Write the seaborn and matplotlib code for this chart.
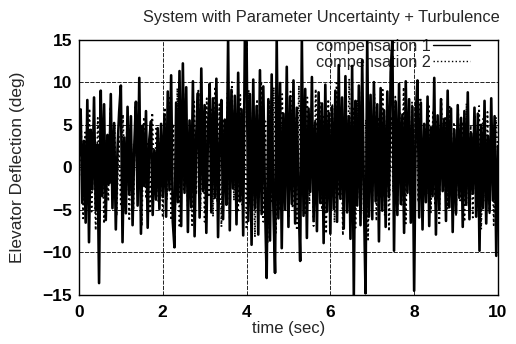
import numpy as np
import pandas as pd
import matplotlib
matplotlib.use('Agg')
import matplotlib.pyplot as plt
import seaborn as sns

comp1 = [
    1.5, 6.8, -4.2, 3.1, -6.5, 7.9, -8.8, 4.4, -2.6, 8.2, -5.1, 2.7, -13.6, 9.0, -3.4, 7.4, -6.2, 3.8, -1.9, 8.6, -4.8, 5.2, -7.3, 2.1, 6.5,
    9.6, -8.8, 3.5, -5.4, 7.1, -3.2, 6.0, -6.8, 2.4, 7.7, -4.5, 10.5, -7.8, 4.9, -2.2, 6.6, -7.1, 3.3, 5.4, -5.6, 2.0, -3.8, 4.6, -4.9, 5.1,
    -3.5, 6.2, -5.8, 8.9, -2.7, 10.8, -6.4, -9.4, 7.6, -4.1, 11.3, -6.9, 12.2, -3.0, 9.4, -7.6, 5.5, -4.7, 10.1, -8.1, 3.9, 8.7, -5.9, 11.6, -2.8,
    7.3, -7.7, 4.2, 9.8, -5.3, 8.1, -3.6, 10.4, -8.2, 2.9, 7.9, -6.1, 5.6, -4.4, 15.0, -7.4, 9.1, -2.5, 8.4, -6.7, 11.1, -4.0, 6.8, -8.0, 15.0,
    14.8, -6.3, 8.6, -9.1, 10.3, -4.8, 7.2, -7.9, 11.4, -5.5, 9.5, -3.9, -13.0, 8.0, -8.6, 10.9, -4.6, -12.4, 15.0, -6.0, 9.9, -9.5, 6.3, -5.0, 11.8,
    -7.0, 8.3, -4.3, 10.2, -6.6, 7.0, -3.1, -11.0, 15.0, -5.7, 9.2, -8.3, 6.9, -2.9, 10.6, -6.2, 5.3, -7.5, 8.8, -4.2, 7.5, -8.9, 9.7, -5.2, 6.4,
    -7.8, 7.1, -4.9, 9.0, -6.4, 12.0, -3.7, 8.2, -7.2, 10.7, -5.3, 6.0, -8.4, 11.9, -15.0, 7.8, -4.5, 9.6, -6.8, 12.6, -3.3, -14.8, 15.0, -5.8, 8.5,
    -6.1, 10.0, -4.0, 7.4, -8.7, 9.3, -5.1, 6.7, -7.0, 8.9, -3.5, 11.2, 15.0, -9.8, 7.7, -5.6, 9.8, -4.3, 6.2, -7.7, 10.1, -3.0, 8.0, -6.5, 7.1,
    -14.5, 6.4, 10.2, -5.9, 7.6, -7.3, 5.1, -4.1, 8.3, -6.9, 4.7, -3.4, 10.5, -7.9, 6.1, -5.0, 8.0, -2.8, 5.7, -6.3, 9.0, -4.7, 6.9, -7.6, 4.4,
    -5.4, 7.3, -3.6, 5.8, -7.0, 6.6, -4.4, 8.8, -6.1, 4.0, -3.1, 7.0, -5.8, 6.3, -9.8, 5.0, -4.8, 7.8, -6.6, 3.7, -5.2, 8.1, -3.9, 6.0, -10.4, 2.5,
]

# compensation 2, sampled every 0.05 s
comp2 = [
    -2.1, 5.3, -6.0, 4.1, -3.3, 6.9, -5.2, 2.6, -7.4, 5.8, -1.8, 4.7, -6.6, 3.2, -4.0, 7.1, -2.9, 5.0, -5.7, 3.6,
    -4.6, 6.2, -3.1, 5.5, -6.3, 2.8, -5.0, 7.3, -2.4, 4.3, -6.9, 5.9, -3.7, 3.0, -5.4, 6.4, -2.0, 4.8, -4.2, 3.4,
    -5.9, 7.0, -3.8, 8.4, -6.2, 5.1, -4.5, 9.3, -7.1, 6.0, -2.6, 8.8, -5.5, 4.6, -6.8, 7.7, -3.2, 9.0, -4.9, 6.5,
    -6.4, 8.1, -3.5, 6.8, -5.8, 9.5, -4.1, 7.4, -7.0, 5.7, -2.8, 8.7, -6.1, 10.0, -3.9, 6.3, -5.3, 8.5, -4.4, 7.2,
    -7.3, 9.1, -4.7, 6.6, -8.2, 8.0, -3.6, 10.1, -6.4, 5.4, -9.0, 7.9, -4.0, 9.4, -7.7, 6.1, -5.1, 8.6, -3.3, 7.5,
    -6.0, 8.9, -4.8, 6.0, -7.4, 9.6, -3.0, 7.0, -5.6, 8.2, -4.3, 6.7, -6.9, 9.2, -2.7, 7.6, -5.0, 6.2, -7.8, 8.0,
    -4.6, 7.3, -6.5, 9.9, -3.4, 6.4, -8.0, 8.1, -5.2, 10.4, -4.1, 6.9, -7.1, 7.9, -3.8, 9.0, -6.0, 5.6, -8.5, 7.0,
    -4.2, 8.6, -6.3, 5.9, -3.6, 9.1, -5.7, 7.2, -7.5, 6.0, -2.9, 8.3, -5.0, 6.6, -4.4, 9.4, -6.6, 5.2, -3.4, 7.7,
    -5.9, 6.3, -4.1, 8.2, -6.2, 5.0, -3.2, 7.4, -5.3, 6.7, -4.5, 5.6, -6.8, 8.0, -2.7, 6.0, -4.9, 7.1, -3.7, 5.3,
    -5.6, 6.8, -3.9, 5.4, -6.4, 7.5, -4.6, 4.9, -5.9, 6.2, -3.0, 7.2, -7.3, 5.7, -4.0, 6.5, -5.4, 4.6, -6.8, 5.9, 1.2,
]

x_ticks = [0, 2, 4, 6, 8, 10]
y_ticks = [-15, -10, -5, 0, 5, 10, 15]

t1 = np.linspace(0, 10, len(comp1))
t2 = np.linspace(0, 10, len(comp2))
df1 = pd.DataFrame({'time': t1, 'value': comp1})
df2 = pd.DataFrame({'time': t2, 'value': comp2})

sns.set_style('white')
plt.rcParams['font.family'] = ['Liberation Sans', 'DejaVu Sans']

fig = plt.figure(figsize=(5.16, 3.44), dpi=100)
ax = fig.add_axes([0.153, 0.1424, 0.812, 0.7426])

sns.lineplot(data=df2, x='time', y='value', ax=ax, color='black', lw=1.3,
             linestyle=':', label='compensation 2', estimator=None, sort=False)
sns.lineplot(data=df1, x='time', y='value', ax=ax, color='black', lw=1.9,
             label='compensation 1', estimator=None, sort=False)

ax.set_xlim(0, 10)
ax.set_ylim(-15, 15)
ax.set_xticks(x_ticks)
ax.set_yticks(y_ticks)
ax.tick_params(length=0, labelsize=12.5, colors='black')
ax.tick_params(axis='x', pad=7)
ax.tick_params(axis='y', pad=5)
for lab in ax.get_xticklabels() + ax.get_yticklabels():
    lab.set_fontweight('bold')

ax.grid(True, color='black', lw=0.6, linestyle=(0, (5, 1.5)))
for s in ax.spines.values():
    s.set_color('black')
    s.set_linewidth(1.0)

ax.set_xlabel('time (sec)', fontsize=12)
ax.set_ylabel('Elevator Deflection (deg)', fontsize=12.5)
ax.xaxis.set_label_coords(0.5, -0.10)
ax.yaxis.set_label_coords(-0.129, 0.5)
fig.text(0.622, 0.948, 'System with Parameter Uncertainty + Turbulence',
         ha='center', va='center', fontsize=11.8)

handles, labels = ax.get_legend_handles_labels()
leg = ax.legend(handles[::-1], labels[::-1], loc='upper right', frameon=False,
                markerfirst=False, fontsize=11.7, handlelength=2.3,
                handletextpad=0.1, labelspacing=0.05, borderaxespad=0,
                bbox_to_anchor=(0.949, 1.027))
leg.set_zorder(1)
for line in leg.get_lines():
    line.set_linewidth(1.0)

fig.savefig('out.png', dpi=100)
